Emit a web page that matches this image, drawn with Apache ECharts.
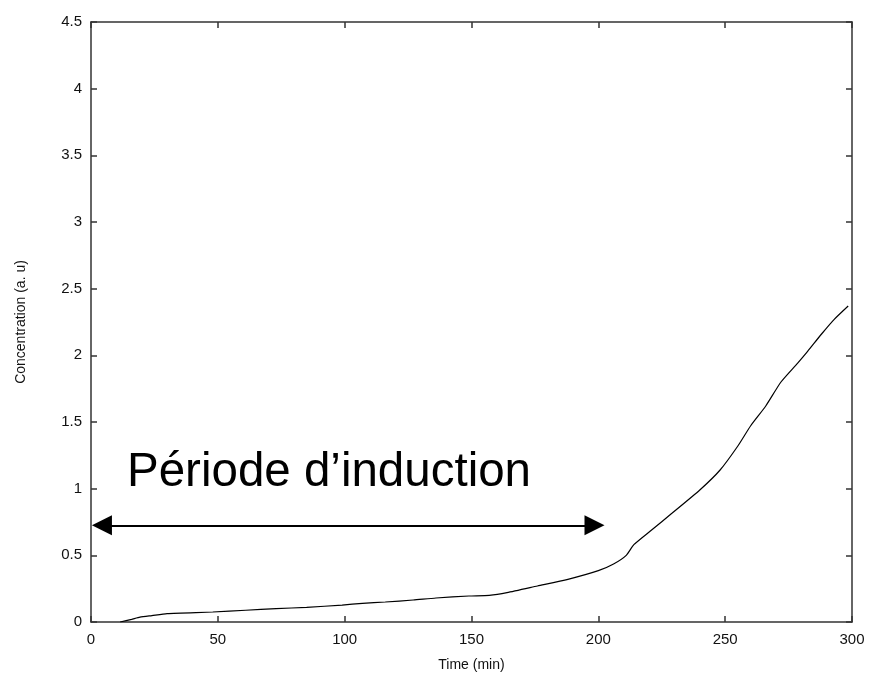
<!DOCTYPE html>
<html>
<head>
<meta charset="utf-8">
<script src="https://cdn.jsdelivr.net/npm/echarts@6/dist/echarts.min.js"></script>
<style>
  html, body { margin: 0; padding: 0; background: #fff; }
  #chart { width: 872px; height: 685px; }
</style>
</head>
<body>
<div id="chart"></div>
<script>
// time (min) and concentration (a. u)
var timeMin = [11.5, 16, 19.3, 24, 30, 48, 61, 73, 85, 99, 107, 116, 127, 136, 149, 157, 164, 176,
  188, 200, 206, 211, 214, 221, 229, 240, 248, 255, 260, 266, 272, 278.5, 282.5, 288, 293, 298.5];
var concentration = [0, 0.02, 0.036, 0.048, 0.063, 0.075, 0.088, 0.1, 0.11, 0.127, 0.14, 0.15, 0.165, 0.18,
  0.195, 0.2, 0.22, 0.27, 0.32, 0.385, 0.435, 0.5, 0.58, 0.69, 0.815, 0.99, 1.14, 1.32, 1.47, 1.62, 1.8,
  1.94, 2.03, 2.16, 2.27, 2.37];

// induction period arrow (data units)
var arrowStart = [4.3, 0.725];
var arrowEnd = [198.5, 0.725];
var annotation = 'Période d\u2019induction';

var font = 'Arial, "Liberation Sans", sans-serif';
var axisColor = '#333';

var points = timeMin.map(function(t, i) { return [t, concentration[i]]; });

var myChart = echarts.init(document.getElementById('chart'));

function axisBase(show) {
	return {
		type: 'value',
		axisLine: { show: true, onZero: false, lineStyle: { color: axisColor, width: 1.5 } },
		axisTick: { show: true, inside: true, length: 6, lineStyle: { color: axisColor, width: 1.5 } },
		splitLine: { show: false },
		axisLabel: {
			show: show,
			color: '#111',
			fontFamily: font,
			fontSize: 15
		}
	};
}

var xBottom = axisBase(true);
xBottom.min = 0; xBottom.max = 300; xBottom.interval = 50;
xBottom.position = 'bottom';
xBottom.axisLabel.margin = 10;
xBottom.name = 'Time (min)';
xBottom.nameLocation = 'middle';
xBottom.nameGap = 36;
xBottom.nameTextStyle = { color: '#111', fontFamily: font, fontSize: 14 };

var xTop = axisBase(false);
xTop.min = 0; xTop.max = 300; xTop.interval = 50;
xTop.position = 'top';

var yLeft = axisBase(true);
yLeft.min = 0; yLeft.max = 4.5; yLeft.interval = 0.5;
yLeft.position = 'left';
yLeft.axisLabel.margin = 9;
yLeft.axisLabel.formatter = function(v) { return String(v); };
yLeft.name = 'Concentration (a. u)';
yLeft.nameLocation = 'middle';
yLeft.nameGap = 63;
yLeft.nameTextStyle = { color: '#111', fontFamily: font, fontSize: 14 };

var yRight = axisBase(false);
yRight.min = 0; yRight.max = 4.5; yRight.interval = 0.5;
yRight.position = 'right';

var option = {
	animation: false,
	backgroundColor: '#fff',
	grid: { left: 91, right: 20, top: 22, bottom: 63, containLabel: false },
	xAxis: [xBottom, xTop],
	yAxis: [yLeft, yRight],
	graphic: [{
		type: 'text',
		left: 127,
		top: 449,
		style: {
			text: annotation,
			fill: '#000',
			font: '47.5px ' + font
		}
	}],
	series: [{
		type: 'line',
		xAxisIndex: 0,
		yAxisIndex: 0,
		data: points,
		showSymbol: false,
		smooth: 0.2,
		lineStyle: { color: '#000', width: 1.2 },
		markLine: {
			silent: true,
			symbol: ['triangle', 'triangle'],
			symbolSize: [20, 20],
			label: { show: false },
			lineStyle: { color: '#000', width: 2, type: 'solid' },
			data: [[{ coord: arrowStart }, { coord: arrowEnd }]]
		}
	}]
};
myChart.setOption(option);
</script>
</body>
</html>
